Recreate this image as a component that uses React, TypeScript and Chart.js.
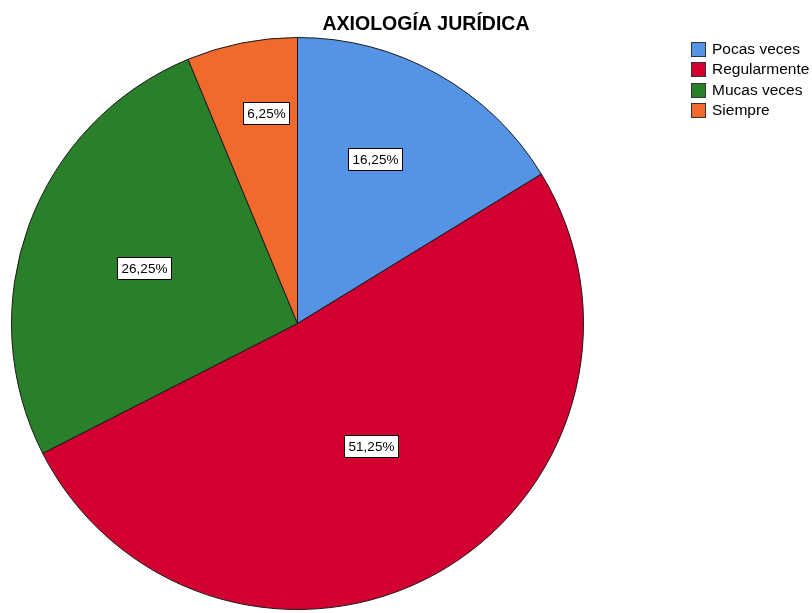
import React, { useEffect, useRef } from "react";
import { Chart, registerables } from "chart.js";

Chart.register(...registerables);

const chartTitle = "AXIOLOGÍA JURÍDICA";
const categories = ["Pocas veces", "Regularmente", "Mucas veces", "Siempre"];
const percentages = [16.25, 51.25, 26.25, 6.25];
const sliceColors = ["#5594e4", "#d10030", "#2a7f2b", "#f26a2b"];
const labelAngleFrac = [0.43, 0.49, 0.495, 0.62];
const labelRadiusFrac = [0.635, 0.5, 0.57, 0.745];

const FONT = "'Liberation Sans', Arial, sans-serif";

const fmt = (v: number) => v.toFixed(2).replace(".", ",") + "%";

const overlayPlugin = {
  id: "overlay",
  afterDraw(chart: any) {
    const ctx = chart.ctx as CanvasRenderingContext2D;
    ctx.save();
    // title
    ctx.fillStyle = "#000";
    ctx.font = `bold 19.5px ${FONT}`;
    ctx.textAlign = "center";
    ctx.textBaseline = "middle";
    ctx.fillText(chartTitle, 426, 25);

    // slice labels
    const meta = chart.getDatasetMeta(0);
    ctx.font = `13.5px ${FONT}`;
    meta.data.forEach((arc: any, i: number) => {
      const p = arc.getProps(["x", "y", "startAngle", "endAngle", "outerRadius"], true);
      const a = p.startAngle + (p.endAngle - p.startAngle) * labelAngleFrac[i];
      const r = p.outerRadius * labelRadiusFrac[i];
      const cx = p.x + Math.cos(a) * r;
      const cy = p.y + Math.sin(a) * r;
      const text = fmt(percentages[i]);
      const tw = ctx.measureText(text).width;
      const bw = Math.round(tw + 8);
      const bh = 22;
      const bx = Math.round(cx - bw / 2) + 0.5;
      const by = Math.round(cy - bh / 2) + 0.5;
      ctx.fillStyle = "#fff";
      ctx.fillRect(bx, by, bw, bh);
      ctx.strokeStyle = "#000";
      ctx.lineWidth = 1;
      ctx.strokeRect(bx, by, bw, bh);
      ctx.fillStyle = "#000";
      ctx.textAlign = "center";
      ctx.textBaseline = "middle";
      ctx.fillText(text, bx + bw / 2, by + bh / 2 + 0.5);
    });

    // legend
    ctx.font = `15.5px ${FONT}`;
    ctx.textAlign = "left";
    ctx.textBaseline = "middle";
    categories.forEach((c, i) => {
      const top = 42 + i * 20.3;
      const x = 691.5;
      const y = Math.round(top) + 0.5;
      ctx.fillStyle = sliceColors[i];
      ctx.fillRect(x, y, 14, 14);
      ctx.strokeStyle = "#333";
      ctx.lineWidth = 1;
      ctx.strokeRect(x, y, 14, 14);
      ctx.fillStyle = "#000";
      ctx.fillText(c, 712, y + 7.5);
    });
    ctx.restore();
  },
};

export default function App() {
  const ref = useRef<HTMLCanvasElement | null>(null);
  useEffect(() => {
    document.body.style.margin = "0";
    const canvas = ref.current;
    if (!canvas) return;
    const chart = new Chart(canvas, {
      type: "pie",
      data: {
        labels: categories,
        datasets: [
          {
            data: percentages,
            backgroundColor: sliceColors,
            borderColor: "#1a1a1a",
            borderWidth: 1,
          },
        ],
      },
      options: {
        responsive: false,
        animation: false,
        events: [],
        layout: { padding: { left: 11, right: 228, top: 37, bottom: 3 } },
        plugins: {
          legend: { display: false },
          title: { display: false },
          tooltip: { enabled: false },
        },
      },
      plugins: [overlayPlugin],
    });
    return () => chart.destroy();
  }, []);
  return (
    <div style={{ width: 812, height: 613, background: "#fff" }}>
      <canvas ref={ref} width={812} height={613} style={{ display: "block" }} />
    </div>
  );
}
